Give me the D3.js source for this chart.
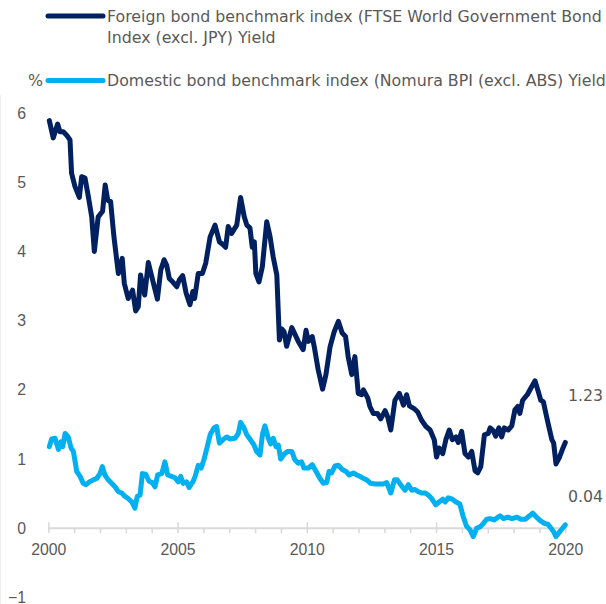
<!DOCTYPE html>
<html>
<head>
<meta charset="utf-8">
<script src="https://cdn.jsdelivr.net/npm/d3@7"></script>
<style>
  body { margin: 0; background: #fff; }
  svg { display: block; font-family: "DejaVu Sans", Verdana, sans-serif; }
</style>
</head>
<body>
<svg></svg>
<script>
// yields in %, [decimal year, value]
let foreignYield = [
  [2000.04, 5.89], [2000.19, 5.64], [2000.36, 5.84], [2000.45, 5.73], [2000.58, 5.73],
  [2000.71, 5.68], [2000.84, 5.61], [2000.9, 5.13], [2001.03, 4.94], [2001.2, 4.78],
  [2001.29, 5.08], [2001.42, 5.06], [2001.55, 4.79], [2001.68, 4.5], [2001.78, 4.0],
  [2001.93, 4.5], [2002.1, 4.58], [2002.2, 4.96], [2002.3, 4.74], [2002.41, 4.72],
  [2002.54, 4.21], [2002.71, 3.68], [2002.86, 3.9], [2002.94, 3.54], [2003.09, 3.32],
  [2003.26, 3.44], [2003.38, 3.14], [2003.48, 3.2], [2003.57, 3.66], [2003.73, 3.37],
  [2003.87, 3.84], [2004.0, 3.64], [2004.22, 3.31], [2004.35, 3.73], [2004.48, 3.88],
  [2004.58, 3.8], [2004.68, 3.61], [2004.81, 3.56], [2004.97, 3.49], [2005.07, 3.59],
  [2005.2, 3.65], [2005.33, 3.4], [2005.48, 3.23], [2005.59, 3.42], [2005.66, 3.32],
  [2005.8, 3.68], [2005.96, 3.68], [2006.09, 3.83], [2006.26, 4.21], [2006.45, 4.38],
  [2006.62, 4.14], [2006.75, 4.1], [2006.86, 4.06], [2006.96, 4.36], [2007.09, 4.26],
  [2007.29, 4.38], [2007.44, 4.78], [2007.58, 4.5], [2007.68, 4.38], [2007.8, 4.34],
  [2007.89, 4.06], [2007.97, 4.14], [2008.03, 3.68], [2008.15, 3.56], [2008.28, 3.78],
  [2008.45, 4.43], [2008.58, 4.21], [2008.7, 3.92], [2008.84, 3.66], [2008.94, 2.72],
  [2009.03, 2.88], [2009.12, 2.84], [2009.22, 2.63], [2009.42, 2.9], [2009.67, 2.7],
  [2009.86, 2.58], [2009.97, 2.86], [2010.06, 2.7], [2010.21, 2.77], [2010.29, 2.62],
  [2010.44, 2.29], [2010.61, 2.01], [2010.74, 2.22], [2010.9, 2.62], [2011.06, 2.84],
  [2011.22, 2.99], [2011.37, 2.82], [2011.5, 2.77], [2011.6, 2.48], [2011.74, 2.22],
  [2011.86, 2.48], [2011.99, 1.95], [2012.12, 1.93], [2012.19, 2.0], [2012.36, 1.88],
  [2012.44, 1.76], [2012.57, 1.66], [2012.73, 1.66], [2012.86, 1.58], [2013.03, 1.7],
  [2013.13, 1.61], [2013.25, 1.42], [2013.41, 1.85], [2013.58, 1.95], [2013.74, 1.78],
  [2013.86, 1.93], [2013.97, 1.77], [2014.15, 1.73], [2014.29, 1.68], [2014.44, 1.56],
  [2014.61, 1.47], [2014.77, 1.42], [2014.93, 1.28], [2015.02, 1.03], [2015.12, 1.16],
  [2015.26, 1.08], [2015.38, 1.28], [2015.51, 1.42], [2015.63, 1.28], [2015.77, 1.32],
  [2015.86, 1.24], [2015.99, 1.4], [2016.12, 1.08], [2016.25, 1.03], [2016.38, 1.11],
  [2016.51, 0.83], [2016.61, 0.8], [2016.73, 0.89], [2016.87, 1.35], [2017.02, 1.37],
  [2017.09, 1.45], [2017.21, 1.41], [2017.31, 1.33], [2017.43, 1.45], [2017.54, 1.32],
  [2017.64, 1.45], [2017.79, 1.42], [2017.93, 1.48], [2018.05, 1.71], [2018.16, 1.76],
  [2018.24, 1.66], [2018.35, 1.85], [2018.53, 1.93], [2018.66, 2.02], [2018.83, 2.13],
  [2018.96, 1.97], [2019.05, 1.85], [2019.15, 1.83], [2019.26, 1.64], [2019.35, 1.49],
  [2019.48, 1.28], [2019.55, 1.23], [2019.64, 0.93], [2019.78, 1.03], [2019.91, 1.16],
  [2020.0, 1.24]
];

let domesticYield = [
  [2000.04, 1.18], [2000.13, 1.29], [2000.26, 1.3], [2000.39, 1.14], [2000.49, 1.25],
  [2000.56, 1.18], [2000.65, 1.37], [2000.77, 1.32], [2000.88, 1.16], [2000.97, 1.11],
  [2001.1, 0.82], [2001.23, 0.75], [2001.35, 0.65], [2001.46, 0.63], [2001.59, 0.67],
  [2001.74, 0.7], [2001.87, 0.72], [2002.0, 0.79], [2002.09, 0.89], [2002.19, 0.77],
  [2002.32, 0.7], [2002.45, 0.65], [2002.58, 0.6], [2002.71, 0.53], [2002.84, 0.51],
  [2002.97, 0.46], [2003.09, 0.43], [2003.23, 0.38], [2003.35, 0.29], [2003.44, 0.46],
  [2003.55, 0.48], [2003.64, 0.79], [2003.77, 0.78], [2003.9, 0.68], [2004.02, 0.66],
  [2004.13, 0.6], [2004.23, 0.77], [2004.39, 0.79], [2004.51, 0.96], [2004.62, 0.77],
  [2004.77, 0.75], [2004.9, 0.73], [2005.03, 0.67], [2005.12, 0.75], [2005.22, 0.65],
  [2005.35, 0.67], [2005.45, 0.59], [2005.59, 0.67], [2005.68, 0.75], [2005.8, 0.91],
  [2005.91, 0.87], [2006.02, 0.99], [2006.15, 1.18], [2006.26, 1.35], [2006.41, 1.45],
  [2006.51, 1.47], [2006.62, 1.23], [2006.75, 1.28], [2006.9, 1.32], [2007.03, 1.29],
  [2007.22, 1.3], [2007.35, 1.37], [2007.44, 1.53], [2007.57, 1.45], [2007.68, 1.35],
  [2007.8, 1.29], [2007.96, 1.2], [2008.06, 1.11], [2008.19, 1.06], [2008.29, 1.37],
  [2008.38, 1.48], [2008.51, 1.3], [2008.6, 1.22], [2008.7, 1.3], [2008.81, 1.18],
  [2008.9, 1.2], [2008.99, 1.0], [2009.12, 1.07], [2009.25, 1.11], [2009.42, 1.11],
  [2009.54, 0.99], [2009.67, 0.94], [2009.8, 0.96], [2009.89, 0.87], [2010.06, 0.87],
  [2010.21, 0.92], [2010.36, 0.82], [2010.51, 0.72], [2010.64, 0.65], [2010.77, 0.66],
  [2010.86, 0.82], [2010.96, 0.8], [2011.09, 0.9], [2011.22, 0.91], [2011.37, 0.85],
  [2011.52, 0.82], [2011.64, 0.77], [2011.8, 0.8], [2011.93, 0.77], [2012.06, 0.75],
  [2012.19, 0.72], [2012.32, 0.7], [2012.47, 0.65], [2012.64, 0.64], [2012.81, 0.64],
  [2012.96, 0.64], [2013.09, 0.66], [2013.25, 0.51], [2013.39, 0.7], [2013.5, 0.7],
  [2013.63, 0.63], [2013.8, 0.55], [2013.93, 0.63], [2014.06, 0.55], [2014.19, 0.56],
  [2014.31, 0.53], [2014.44, 0.51], [2014.57, 0.51], [2014.7, 0.48], [2014.83, 0.43],
  [2014.99, 0.34], [2015.12, 0.38], [2015.26, 0.42], [2015.35, 0.38], [2015.47, 0.44],
  [2015.63, 0.42], [2015.77, 0.38], [2015.92, 0.35], [2016.05, 0.17], [2016.18, 0.03],
  [2016.31, -0.02], [2016.44, -0.12], [2016.57, 0.0], [2016.7, 0.02], [2016.83, 0.07],
  [2016.96, 0.13], [2017.09, 0.14], [2017.25, 0.12], [2017.39, 0.16], [2017.48, 0.18],
  [2017.61, 0.14], [2017.77, 0.16], [2017.93, 0.14], [2018.13, 0.16], [2018.28, 0.13],
  [2018.45, 0.13], [2018.62, 0.18], [2018.74, 0.22], [2018.86, 0.17], [2019.03, 0.11],
  [2019.19, 0.07], [2019.32, 0.06], [2019.45, 0.0], [2019.55, -0.05], [2019.64, -0.12],
  [2019.74, -0.07], [2019.87, -0.01], [2020.0, 0.05]
];

let seriesNames = [
  ["Foreign bond benchmark index (FTSE World Government Bond", "Index (excl. JPY) Yield"],
  ["Domestic bond benchmark index (Nomura BPI (excl. ABS) Yield"]
];
let endLabels = ["1.23", "0.04"];
let yTicks = [-1, 0, 1, 2, 3, 4, 5, 6];
let years = d3.range(2000, 2021);

let width = 606;
let height = 604;
let darkBlue = "#002060";
let lightBlue = "#00b0f0";
let textGray = "#595959";
let fontSize = "15.8px";

let svg = d3.select("svg");
let xScale, yScale;

function drawCanvas() {
  svg.attr("width", width).attr("height", height);
  // faint frame edge on the left
  svg.append("line")
    .attr("x1", 0.5).attr("x2", 0.5)
    .attr("y1", 95).attr("y2", height)
    .attr("stroke", "#efefef");
}

function generateScales() {
  xScale = d3.scaleLinear().domain([2000, 2020]).range([48.3, 565.3]);
  yScale = d3.scaleLinear().domain([-1, 6]).range([597.5, 113]);
}

function generateAxes() {
  let xAxis = d3.axisBottom(xScale)
    .tickValues(years)
    .tickSize(5)
    .tickPadding(11)
    .tickFormat((d) => (d % 5 === 0 ? d : ""));

  let gx = svg.append("g")
    .attr("id", "x-axis")
    .attr("transform", "translate(0," + yScale(0) + ")")
    .call(xAxis);

  gx.select(".domain")
    .attr("stroke", "#d9d9d9")
    .attr("stroke-width", 2)
    .attr("d", "M" + xScale(2000) + ",0H" + xScale(2020));
  gx.selectAll(".tick line")
    .attr("stroke", "#d9d9d9")
    .attr("stroke-width", 1.5)
    .attr("y1", (d) => (d % 5 === 0 ? -6 : 0));
  gx.selectAll(".tick text")
    .attr("fill", textGray)
    .style("font-size", fontSize)
    .style("font-family", "inherit");

  let yAxis = d3.axisLeft(yScale)
    .tickValues(yTicks)
    .tickSize(0)
    .tickPadding(0)
    .tickFormat(d3.format("d"));

  let gy = svg.append("g")
    .attr("id", "y-axis")
    .attr("transform", "translate(26,0)")
    .call(yAxis);
  gy.select(".domain").remove();
  gy.selectAll(".tick text")
    .attr("fill", textGray)
    .style("font-size", fontSize)
    .style("font-family", "inherit");
}

function drawLines() {
  let line = d3.line()
    .x((d) => xScale(d[0]))
    .y((d) => yScale(d[1]));

  svg.append("path")
    .datum(domesticYield)
    .attr("fill", "none")
    .attr("stroke", lightBlue)
    .attr("stroke-width", 5)
    .attr("stroke-linejoin", "round")
    .attr("stroke-linecap", "round")
    .attr("d", line);

  svg.append("path")
    .datum(foreignYield)
    .attr("fill", "none")
    .attr("stroke", darkBlue)
    .attr("stroke-width", 5)
    .attr("stroke-linejoin", "round")
    .attr("stroke-linecap", "round")
    .attr("d", line);

  svg.append("text")
    .attr("x", 568).attr("y", 400.5)
    .attr("fill", textGray).style("font-size", fontSize)
    .text(endLabels[0]);
  svg.append("text")
    .attr("x", 568).attr("y", 501.5)
    .attr("fill", textGray).style("font-size", fontSize)
    .text(endLabels[1]);
}

function drawLegend() {
  let items = [
    { y: 16, color: darkBlue, lines: seriesNames[0] },
    { y: 80.5, color: lightBlue, lines: seriesNames[1] }
  ];
  items.forEach((item) => {
    svg.append("line")
      .attr("x1", 48).attr("x2", 103)
      .attr("y1", item.y).attr("y2", item.y)
      .attr("stroke", item.color)
      .attr("stroke-width", 5)
      .attr("stroke-linecap", "round");
    item.lines.forEach((t, i) => {
      svg.append("text")
        .attr("x", 107)
        .attr("y", item.y + 5.7 + i * 21)
        .attr("fill", textGray)
        .style("font-size", fontSize)
        .text(t);
    });
  });

  svg.append("text")
    .attr("x", 43).attr("y", 86)
    .attr("text-anchor", "end")
    .attr("fill", textGray)
    .style("font-size", fontSize)
    .text("%");
}

drawCanvas();
generateScales();
generateAxes();
drawLines();
drawLegend();
</script>
</body>
</html>
